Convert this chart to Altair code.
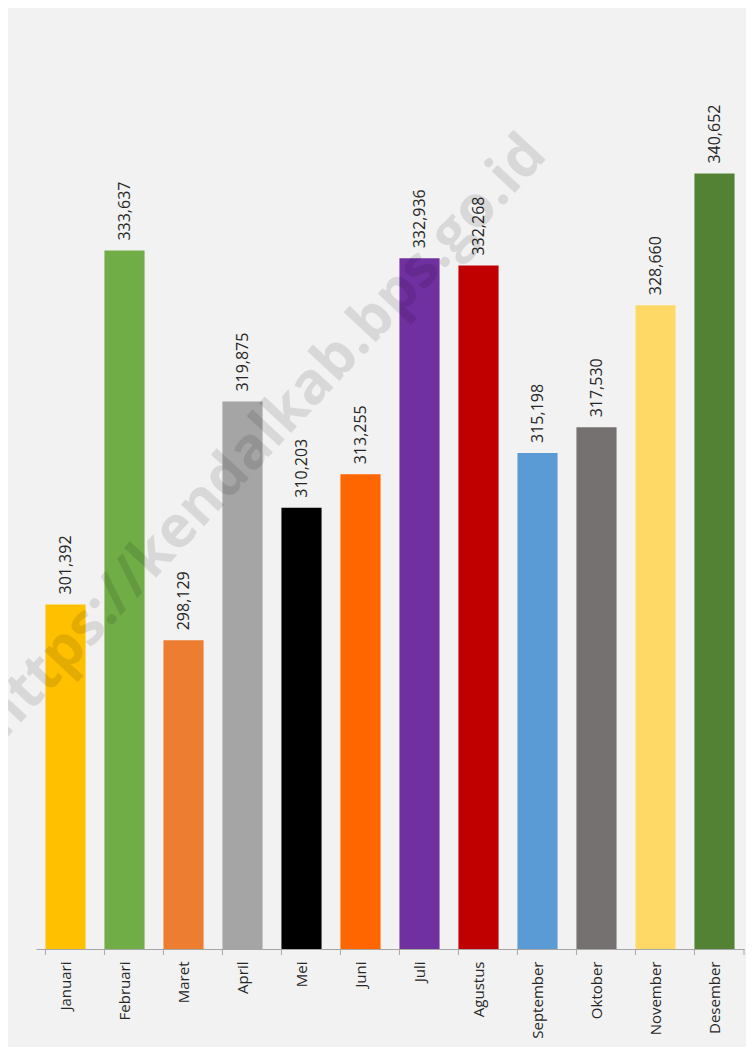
import altair as alt
import pandas as pd

months = ["Januari", "Februari", "Maret", "April", "Mei", "Juni", "Juli",
          "Agustus", "September", "Oktober", "November", "Desember"]
values = [301392, 333637, 298129, 319875, 310203, 313255, 332936,
          332268, 315198, 317530, 328660, 340652]
colors = ["#FFC000", "#70AD47", "#ED7D31", "#A5A5A5", "#000000", "#FF6600",
          "#7030A0", "#C00000", "#5B9BD5", "#767171", "#FFD966", "#548235"]

df = pd.DataFrame({"month": months, "value": values})
df["label"] = [f"{v:,}" for v in values]

W, H = 708, 878
FONT = "Open Sans"
YMIN = 270000

xscale = alt.Scale(domain=months, paddingInner=0.32, paddingOuter=0.16)
yscale = alt.Scale(domain=[YMIN, 350000], zero=False, nice=False)

base = alt.Chart(df)

bars = base.mark_bar().encode(
    x=alt.X("month:N", scale=xscale, sort=months,
            axis=alt.Axis(title=None, labelAngle=270, labelAlign="right",
                          labelBaseline="middle", labelFont=FONT,
                          labelFontSize=15, labelColor="#262626",
                          labelPadding=12, ticks=False,
                          domainColor="#A6A6A6", domainWidth=1)),
    y=alt.Y("value:Q", scale=yscale, axis=None),
    y2=alt.datum(YMIN),
    color=alt.Color("month:N", scale=alt.Scale(domain=months, range=colors),
                    legend=None),
)

labels = base.mark_text(angle=270, align="left", baseline="middle", dx=10,
                        font=FONT, fontSize=16, color="#262626").encode(
    x=alt.X("month:N", scale=xscale, sort=months),
    y=alt.Y("value:Q", scale=yscale),
    text="label:N",
)

ticks = base.mark_rule(color="#A6A6A6", strokeWidth=1).encode(
    x=alt.X("month:N", scale=xscale, sort=months, bandPosition=0),
    y=alt.value(H),
    y2=alt.value(H + 6),
)
last_tick = alt.Chart(pd.DataFrame({"a": [0]})).mark_rule(
    color="#A6A6A6", strokeWidth=1).encode(
    x=alt.value(W), y=alt.value(H), y2=alt.value(H + 6))

watermark = alt.Chart(pd.DataFrame({"t": ["https://kendalkab.bps.go.id"]})).mark_text(
    angle=313, align="center", baseline="middle", font=FONT, fontSize=58,
    fontWeight="bold", color="#000000", opacity=0.1).encode(
    x=alt.value(228), y=alt.value(366), text="t:N")

chart = alt.layer(bars, labels, ticks, last_tick, watermark).properties(
    width=W, height=H,
    background="#F2F2F2",
    autosize=alt.AutoSizeParams(type="none"),
    padding={"left": 28, "top": 63, "right": 2, "bottom": 98},
).configure_view(stroke=None)

chart.save("out.html", embed_options={"renderer": "svg", "actions": False})
